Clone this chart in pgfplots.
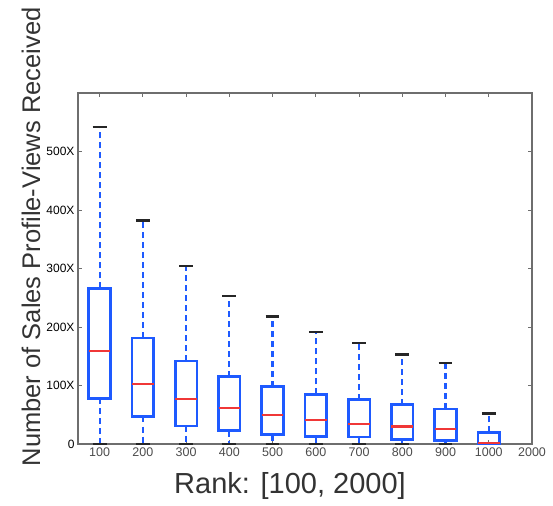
\documentclass[border=0pt]{standalone}
\usepackage{fontspec}
\setmainfont{Liberation Sans}
\usepackage{pgfplots}
\pgfplotsset{compat=1.18}
\usepgfplotslibrary{statistics}
\definecolor{boxblue}{RGB}{30,90,255}
\definecolor{medred}{RGB}{240,55,55}
\definecolor{framegray}{RGB}{110,110,110}
\tikzset{capstyle/.style={black!85, line width=2.2pt, solid}}
\begin{document}
\begin{tikzpicture}
\begin{axis}[
  scale only axis, width=454pt, height=351pt,
  xmin=0.5, xmax=11, ymin=0, ymax=600,
  xtick={1,2,3,4,5,6,7,8,9,10,11},
  xticklabels={100,200,300,400,500,600,700,800,900,1000,2000},
  ytick={0,100,200,300,400,500},
  yticklabels={0,100X,200X,300X,400X,500X},
  axis line style={framegray, line width=1.2pt},
  tick style={framegray, line width=0.8pt},
  tick align=inside, major tick length=4pt,
  xticklabel style={font=\fontsize{12.5}{14}\selectfont, text=black!70},
  yticklabel style={font=\fontsize{12}{14}\selectfont, text=black},
  xlabel={Rank: [100, 2000]},
  ylabel={Number of Sales Profile-Views Received},
  xlabel style={font=\fontsize{29}{34}\selectfont, text=black!80, at={(axis description cs:0.467,-0.1197)}, anchor=center},
  ylabel style={font=\fontsize{25.5}{30}\selectfont, text=black!80, at={(axis description cs:-0.1035,0.59)}, anchor=center},
  clip=false,
  boxplot/draw direction=y,
  boxplot/box extend=0.5,
  boxplot/whisker extend=0.32,
  boxplot/every median/.style={medred, line width=2.2pt, solid},
  boxplot/every whisker/.style={boxblue, line width=2.2pt, dash pattern=on 6pt off 4pt},
  boxplot/draw/lower whisker/.code={
    \draw[/pgfplots/boxplot/every whisker/.try]
      (boxplot box cs:\pgfplotsboxplotvalue{lower quartile},0.5) -- (boxplot box cs:\pgfplotsboxplotvalue{lower whisker},0.5);
    \draw[capstyle] (boxplot whisker cs:\pgfplotsboxplotvalue{lower whisker},0) -- (boxplot whisker cs:\pgfplotsboxplotvalue{lower whisker},1);
  },
  boxplot/draw/upper whisker/.code={
    \draw[/pgfplots/boxplot/every whisker/.try]
      (boxplot box cs:\pgfplotsboxplotvalue{upper quartile},0.5) -- (boxplot box cs:\pgfplotsboxplotvalue{upper whisker},0.5);
    \draw[capstyle] (boxplot whisker cs:\pgfplotsboxplotvalue{upper whisker},0) -- (boxplot whisker cs:\pgfplotsboxplotvalue{upper whisker},1);
  },
]
\addplot[boxblue, line width=2.7pt, boxplot prepared={draw position=1, lower whisker=0, lower quartile=78, median=159, upper quartile=266, upper whisker=542}] coordinates {};
\addplot[boxblue, line width=2.7pt, boxplot prepared={draw position=2, lower whisker=0, lower quartile=47, median=103, upper quartile=181, upper whisker=382}] coordinates {};
\addplot[boxblue, line width=2.7pt, boxplot prepared={draw position=3, lower whisker=0, lower quartile=31, median=77, upper quartile=142, upper whisker=304}] coordinates {};
\addplot[boxblue, line width=2.7pt, boxplot prepared={draw position=4, lower whisker=0, lower quartile=23, median=61, upper quartile=115, upper whisker=253}] coordinates {};
\addplot[boxblue, line width=2.7pt, boxplot prepared={draw position=5, lower whisker=0, lower quartile=16, median=49, upper quartile=98, upper whisker=218}] coordinates {};
\addplot[boxblue, line width=2.7pt, boxplot prepared={draw position=6, lower whisker=0, lower quartile=12.5, median=41.5, upper quartile=85, upper whisker=191}] coordinates {};
\addplot[boxblue, line width=2.7pt, boxplot prepared={draw position=7, lower whisker=0, lower quartile=12, median=34, upper quartile=76, upper whisker=172}] coordinates {};
\addplot[boxblue, line width=2.7pt, boxplot prepared={draw position=8, lower whisker=0, lower quartile=8, median=30, upper quartile=67, upper whisker=153}] coordinates {};
\addplot[boxblue, line width=2.7pt, boxplot prepared={draw position=9, lower whisker=0, lower quartile=6, median=26, upper quartile=60, upper whisker=138}] coordinates {};
\addplot[boxblue, line width=2.7pt, boxplot prepared={draw position=10, lower whisker=0, lower quartile=0.5, median=2, upper quartile=20, upper whisker=52}] coordinates {};
\coordinate (SW) at (rel axis cs:0,0);
\coordinate (NE) at (rel axis cs:1,1);
\end{axis}
\pgfresetboundingbox
\path[use as bounding box] ([shift={(-78pt,-62pt)}]SW) rectangle ([shift={(21pt,93pt)}]NE);
\end{tikzpicture}
\end{document}
